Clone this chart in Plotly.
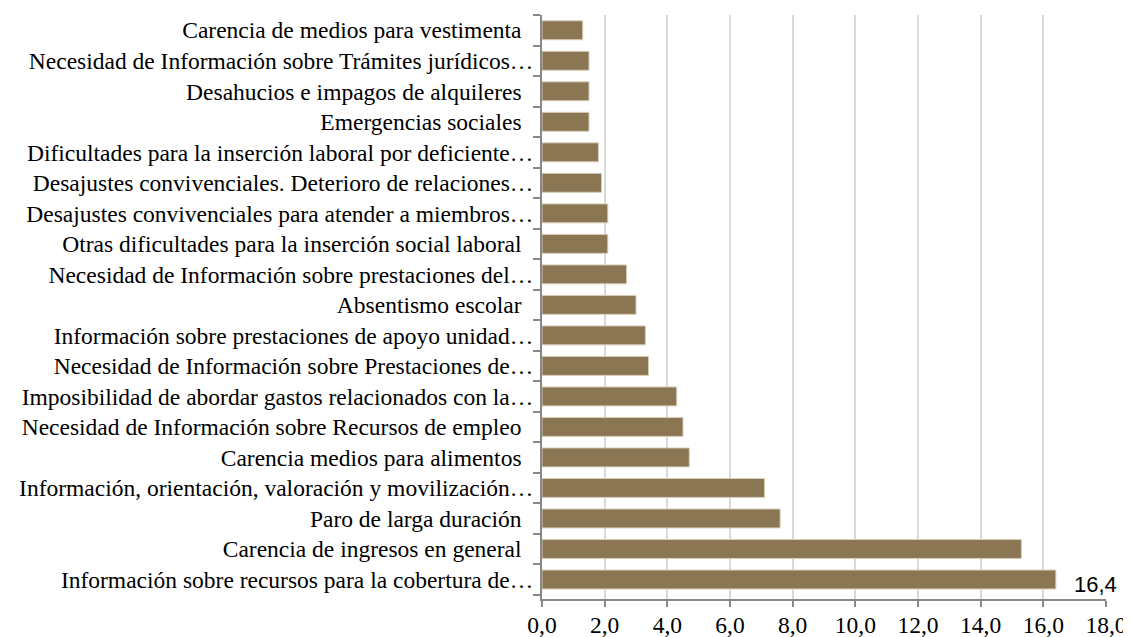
import plotly.graph_objects as go

# categorias de abajo hacia arriba
categorias = [
    "Información sobre recursos para la cobertura de…",
    "Carencia de ingresos en general\u00a0\u00a0",
    "Paro de larga duración\u00a0\u00a0",
    "Información, orientación, valoración y movilización…",
    "Carencia medios para alimentos\u00a0\u00a0",
    "Necesidad de Información sobre Recursos de empleo\u00a0\u00a0",
    "Imposibilidad de abordar gastos relacionados con la…",
    "Necesidad de Información sobre Prestaciones de…",
    "Información sobre prestaciones de apoyo unidad…",
    "Absentismo escolar\u00a0\u00a0",
    "Necesidad de Información sobre prestaciones del…",
    "Otras dificultades para la inserción social laboral\u00a0\u00a0",
    "Desajustes convivenciales para atender a miembros…",
    "Desajustes convivenciales. Deterioro de relaciones…",
    "Dificultades para la inserción laboral por deficiente…",
    "Emergencias sociales\u00a0\u00a0",
    "Desahucios e impagos de alquileres\u00a0\u00a0",
    "Necesidad de Información sobre Trámites jurídicos…",
    "Carencia de medios para vestimenta\u00a0\u00a0",
]
valores = [16.4, 15.3, 7.6, 7.1, 4.7, 4.5, 4.3, 3.4, 3.3, 3.0,
           2.7, 2.1, 2.1, 1.9, 1.8, 1.5, 1.5, 1.5, 1.3]

ticks_x = [0, 2, 4, 6, 8, 10, 12, 14, 16, 18]
ticks_txt = ["0,0", "2,0", "4,0", "6,0", "8,0", "10,0", "12,0", "14,0", "16,0", "18,0"]

fig = go.Figure(go.Bar(
    x=valores, y=categorias, orientation='h',
    marker=dict(color='#8B7653', line=dict(color='#D8CDB8', width=1)),
))

fig.add_annotation(x=valores[0], y=categorias[0], text="16,4", showarrow=False,
                   xanchor='left', xshift=16, yshift=-5,
                   font=dict(family="Liberation Sans", size=22, color='black'))

# la pagina tiene 8px de margen en el body
fig.update_layout(
    width=1131, height=637,
    margin=dict(l=534, r=33, t=7, b=46),
    plot_bgcolor='white', paper_bgcolor='white',
    bargap=0.38, showlegend=False,
    font=dict(family="Liberation Serif", size=23.5, color='black'),
)
fig.update_xaxes(range=[0, 18], tickvals=ticks_x, ticktext=ticks_txt,
                 showgrid=True, gridcolor='#D9D9D9', gridwidth=2,
                 showline=True, linecolor='#878787', linewidth=2,
                 ticks='outside', ticklen=6, tickcolor='#878787', tickwidth=2,
                 ticklabelstandoff=-2,
                 zeroline=False, automargin=False)
fig.update_yaxes(categoryorder='array', categoryarray=categorias,
                 showline=True, linecolor='#878787', linewidth=2,
                 ticks='outside', tickson='boundaries', ticklen=7,
                 tickcolor='#878787', tickwidth=2, ticklabelstandoff=2,
                 automargin=False)

fig.write_html("out.html")
